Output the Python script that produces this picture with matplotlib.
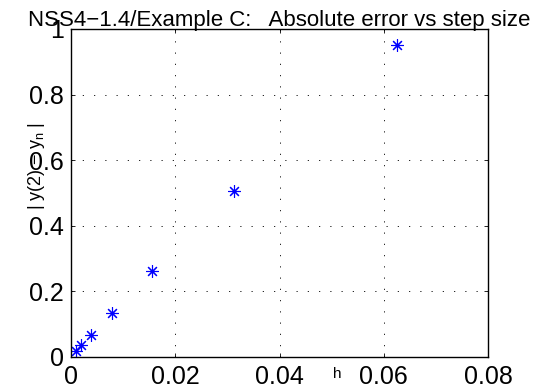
import matplotlib
matplotlib.use("Agg")
import matplotlib.pyplot as plt

# data
h_values = [1/16, 1/32, 1/64, 1/128, 1/256, 1/512, 1/1024]
abs_errors = [0.951, 0.507, 0.262, 0.133, 0.068, 0.036, 0.017]
x_ticks = [0, 0.02, 0.04, 0.06, 0.08]
x_ticklabels = ["0", "0.02", "0.04", "0.06", "0.08"]
y_ticks = [0, 0.2, 0.4, 0.6, 0.8, 1.0]
y_ticklabels = ["0", "0.2", "0.4", "0.6", "0.8", "1"]
title = "NSS4\u22121.4/Example C:   Absolute error vs step size"

plt.rcParams['font.family'] = ['Liberation Sans', 'DejaVu Sans']

fig = plt.figure(figsize=(5.37, 3.92), dpi=100)
ax = fig.add_axes([71/537, (392-357)/392, (488-71)/537, (357-29)/392])

ax.plot(h_values, abs_errors, linestyle='none', marker=(8, 2, 0),
        markersize=9, markeredgewidth=0.8, color='#0000ff')

ax.set_xlim(0, 0.08)
ax.set_ylim(0, 1)
ax.set_xticks(x_ticks)
ax.set_xticklabels(x_ticklabels)
ax.set_yticks(y_ticks)
ax.set_yticklabels(y_ticklabels)
ax.tick_params(direction='in', length=3, width=0.6, top=True, right=True,
               labelsize=18)
ax.tick_params(axis='x', pad=6)
ax.tick_params(axis='y', pad=5)
ax.grid(True, color='black', linestyle=(0, (1.5, 12)), linewidth=0.6)
for s in ax.spines.values():
    s.set_linewidth(1.0)

ax.set_title(title, fontsize=16, pad=2)
ax.set_xlabel("h", fontsize=11)
ax.xaxis.set_label_coords(0.638, -0.03)
ax.xaxis.label.set_verticalalignment('top')
ax.set_ylabel("| y(2) \u2212 y$_\\mathregular{n}$ |", fontsize=13)
ax.yaxis.set_label_coords(-0.057, 0.581)
ax.yaxis.label.set_zorder(10)

fig.savefig("out.png", dpi=100)
